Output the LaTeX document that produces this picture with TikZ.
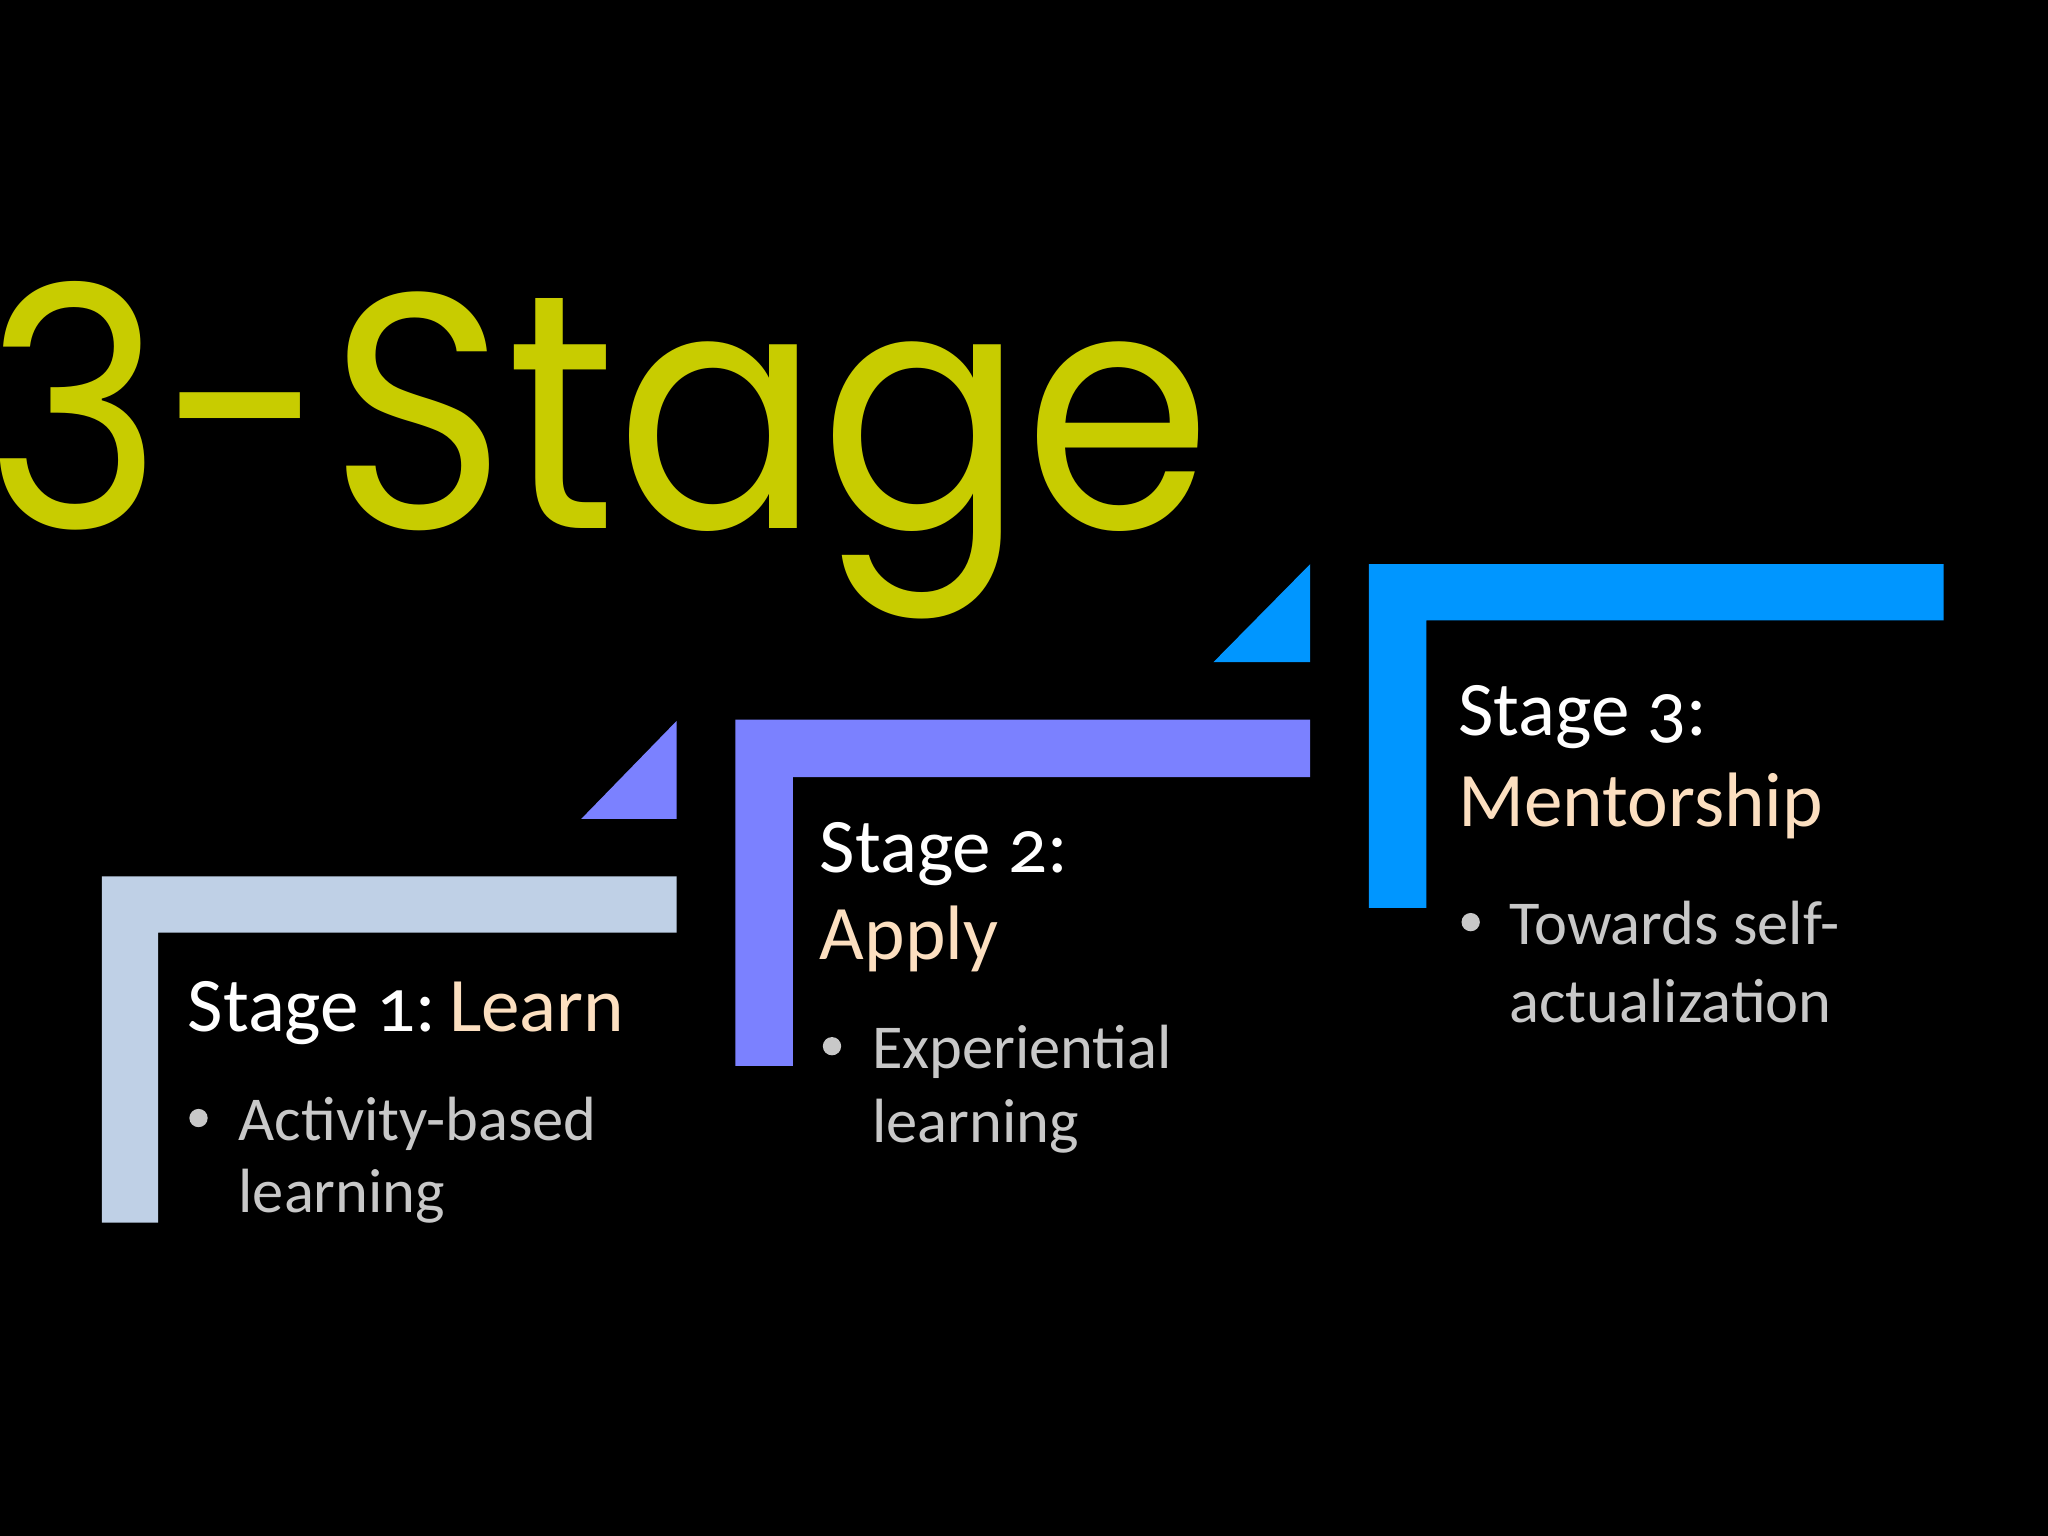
\documentclass[tikz,border=0pt]{standalone}
\usepackage{fontspec}
\setmainfont{Carlito}[Numbers=OldStyle]
\newfontfamily\titlefont{Poppins}
\definecolor{titlecol}{HTML}{C8CC00}
\definecolor{cone}{HTML}{BFD0E6}
\definecolor{ctwo}{HTML}{7B81FF}
\definecolor{cthree}{HTML}{0096FF}
\definecolor{peach}{HTML}{FCDFC0}
\definecolor{bulletgray}{HTML}{C8C8C8}
\tikzset{
  head/.style={anchor=base west, inner sep=0pt, text=white, font=\fontsize{16.8}{19}\selectfont},
  bul/.style={anchor=base west, inner sep=0pt, text=bulletgray, font=\fontsize{13.6}{16}\selectfont},
  dot/.style={circle, fill=bulletgray, inner sep=0pt, minimum size=0.14cm}
}
\begin{document}
\begin{tikzpicture}[x=0.01cm,y=-0.01cm]
\fill[black] (0,0) rectangle (1568,1176);
\useasboundingbox (0,0) rectangle (1568,1176);
\begin{scope}
\clip (0,0) rectangle (1568,1176);
\node[anchor=base west, inner sep=0pt, text=titlecol, xscale=0.9, font=\titlefont\fontsize{73}{76}\selectfont] (title) at (-12,405) {3-Stage};
\end{scope}
% stage 1
\fill[cone] (78,671) -- (518,671) -- (518,714) -- (121,714) -- (121,936) -- (78,936) -- cycle;
\fill[ctwo] (445,627) -- (518,552) -- (518,627) -- cycle;
% stage 2
\fill[ctwo] (563,551) -- (1003,551) -- (1003,595) -- (607,595) -- (607,816) -- (563,816) -- cycle;
\fill[cthree] (929,507) -- (1003,432) -- (1003,507) -- cycle;
% stage 3
\fill[cthree] (1048,432) -- (1488,432) -- (1488,475) -- (1092,475) -- (1092,695) -- (1048,695) -- cycle;
% texts
\node[head] (s1) at (143,790) {Stage 1:\,\textcolor{peach}{Learn}};
\node[dot] (d1) at (152,856) {};
\node[bul] (b1a) at (182,873) {Activity-based};
\node[bul] (b1b) at (182,928) {learning};
\node[head] (s2) at (627,668) {Stage 2:};
\node[head, text=peach] (s2b) at (627,735) {Apply};
\node[dot] (d2) at (637,801) {};
\node[bul] (b2a) at (667,818) {Experiential};
\node[bul] (b2b) at (667,875) {learning};
\node[head] (s3) at (1116,563) {Stage 3:};
\node[head, text=peach] (s3b) at (1116,633) {Mentorship};
\node[dot] (d3) at (1126,706) {};
\node[bul] (b3a) at (1155,723) {Towards self-};
\node[bul] (b3b) at (1155,783) {actualization};
\end{tikzpicture}
\end{document}
